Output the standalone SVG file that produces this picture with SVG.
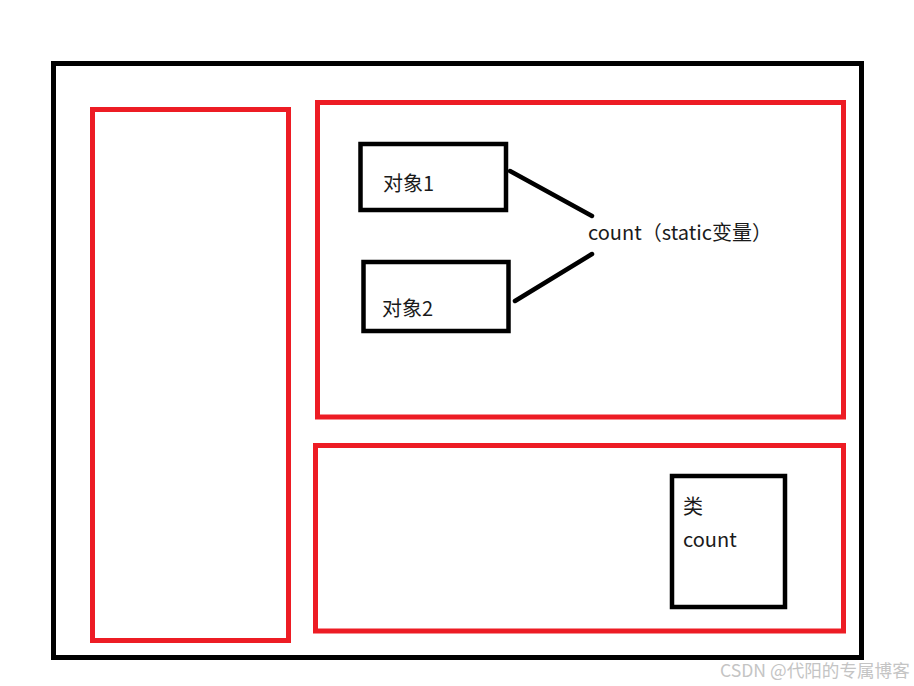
<svg xmlns="http://www.w3.org/2000/svg" width="914" height="686" viewBox="0 0 914 686">
<style>
.blk{fill:none;stroke:#000;stroke-width:5}
.red{fill:none;stroke:#ed1c24;stroke-width:5}
.box{fill:none;stroke:#000;stroke-width:4.5}
.t{font-family:"Noto Sans CJK SC","Microsoft YaHei",sans-serif;font-size:20px;fill:#1a1a1a}
.wm{font-family:"Noto Sans CJK SC",sans-serif;font-size:17.6px;fill:#c4c4c4}
</style>
<rect width="914" height="686" fill="#fff"/>
<g id="outer"><rect class="blk" x="53.5" y="63.5" width="808" height="594"/></g>
<g id="left-area"><rect class="red" x="92.5" y="109.5" width="196" height="531"/></g>
<g id="heap-area"><rect class="red" x="317.5" y="102.5" width="526" height="314.5"/></g>
<g id="method-area"><rect class="red" x="315.5" y="445.5" width="528" height="185.5"/></g>
<g id="obj1"><rect class="box" x="360.5" y="144" width="145.5" height="66"/><text class="t" x="383" y="191">对象1</text></g>
<g id="obj2"><rect class="box" x="363.5" y="262" width="145" height="69"/><text class="t" x="382" y="316">对象2</text></g>
<g id="static-count"><text class="t" x="588" y="240">count（static变量）</text></g>
<g id="class"><rect class="box" x="672" y="476" width="113" height="131"/><text class="t" x="683" y="514">类</text><text class="t" x="683" y="547">count</text></g>
<g id="connectors" stroke="#000" stroke-width="4.5" stroke-linecap="round">
<line x1="510" y1="171" x2="592" y2="216"/>
<line x1="592" y1="254" x2="515" y2="301"/>
</g>
<text class="wm" x="720" y="677">CSDN @代阳的专属博客</text>
</svg>
